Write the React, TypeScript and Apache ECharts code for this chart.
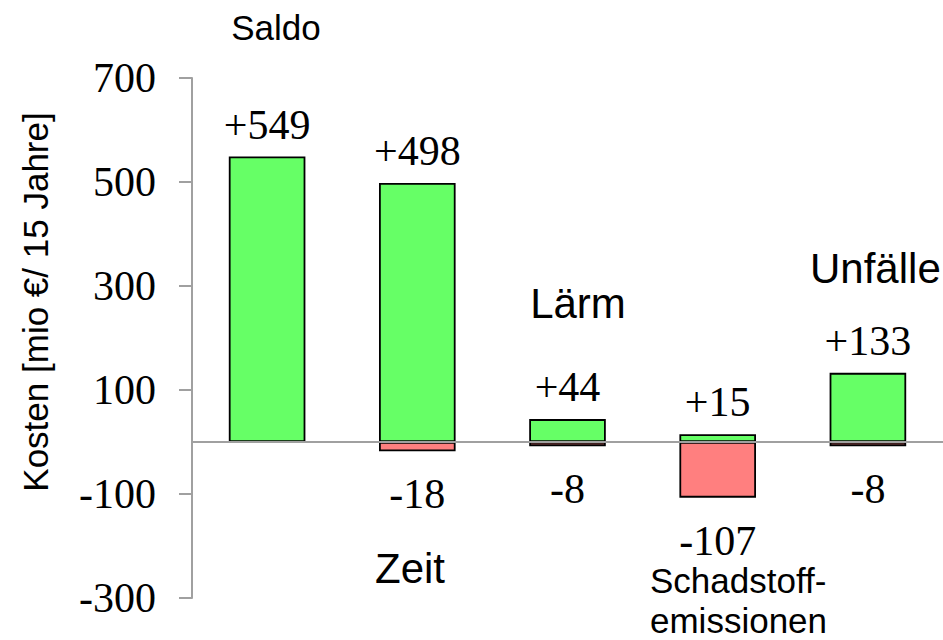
import React, { useEffect, useRef } from "react";
import * as echarts from "echarts";

const categories = ["Saldo", "Zeit", "Lärm", "Schadstoffemissionen", "Unfälle"];
const gains = [549, 498, 44, 15, 133];
const losses = [null, -18, -8, -107, -8];
const yTicks = { min: -300, max: 700, interval: 200 };
const axisTitle = "Kosten [mio €/ 15 Jahre]";

const SERIF = "Liberation Serif";
const SANS = "Liberation Sans";

export default function App() {
  const ref = useRef<HTMLDivElement>(null);
  useEffect(() => {
    if (!ref.current) return;
    const chart = echarts.init(ref.current, undefined, { renderer: "svg" });
    const catText = (text: string, x: number, y: number, size: number, align = "center") => ({
      type: "text",
      x,
      y,
      style: {
        text,
        fontFamily: SANS,
        fontSize: size,
        fill: "#000",
        align,
        verticalAlign: "middle",
        lineHeight: 40,
      },
    });
    chart.setOption({
      animation: false,
      grid: { left: 192, right: 0, top: 78, bottom: 42 },
      xAxis: {
        type: "category",
        data: categories,
        z: 5,
        axisLine: { onZero: true, lineStyle: { color: "#a0a0a0", width: 2 } },
        axisTick: { show: false },
        axisLabel: { show: false },
      },
      yAxis: {
        type: "value",
        min: yTicks.min,
        max: yTicks.max,
        interval: yTicks.interval,
        splitLine: { show: false },
        axisLine: { show: true, lineStyle: { color: "#a0a0a0", width: 2 } },
        axisTick: { show: true, length: 13, lineStyle: { color: "#a0a0a0", width: 2 } },
        axisLabel: {
          margin: 36,
          color: "#000",
          fontFamily: SERIF,
          fontSize: 42,
        },
      },
      series: [
        {
          type: "bar",
          stack: "k",
          data: gains,
          barWidth: "51%",
          itemStyle: { color: "#66FF66", borderColor: "#000", borderWidth: 1.8 },
          label: {
            show: true,
            position: "top",
            distance: 11,
            formatter: (p: any) => "+" + p.value,
            color: "#000",
            fontFamily: SERIF,
            fontSize: 42,
          },
        },
        {
          type: "bar",
          stack: "k",
          data: losses,
          barWidth: "51%",
          itemStyle: { color: "#FF7F7F", borderColor: "#000", borderWidth: 1.8 },
          label: {
            show: true,
            position: "bottom",
            distance: 22,
            formatter: (p: any) => String(p.value),
            color: "#000",
            fontFamily: SERIF,
            fontSize: 42,
          },
        },
      ],
      graphic: [
        {
          type: "text",
          x: 35,
          y: 302,
          rotation: Math.PI / 2,
          style: {
            text: axisTitle,
            fontFamily: SANS,
            fontSize: 35,
            fill: "#000",
            align: "center",
            verticalAlign: "middle",
          },
        },
        catText("Saldo", 276, 27, 35),
        catText("Zeit", 410, 568, 42),
        catText("Lärm", 578, 303, 42),
        catText("Schadstoff-\nemissionen", 650, 600, 35, "left"),
        catText("Unfälle", 810, 268, 42, "left"),
      ],
    });
    return () => chart.dispose();
  }, []);
  return (
    <div
      ref={ref}
      style={{ position: "fixed", left: 0, top: 0, width: 943, height: 640, background: "#fff" }}
    />
  );
}
